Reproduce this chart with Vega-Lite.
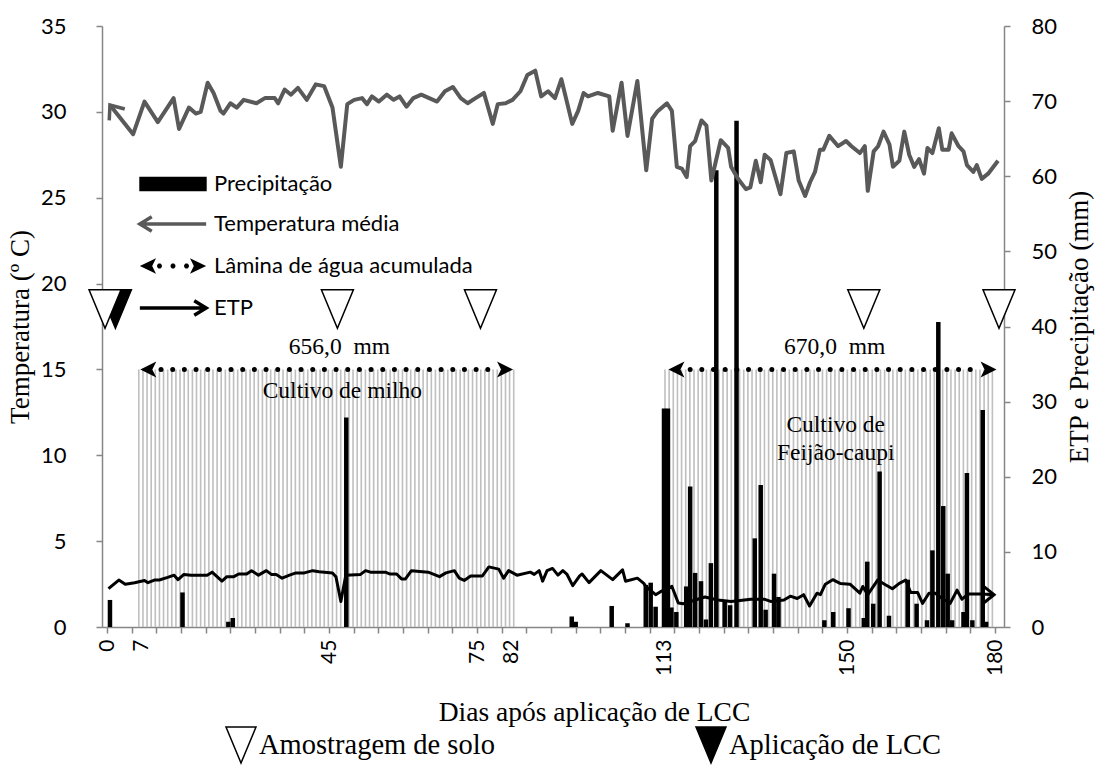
{
"$schema": "https://vega.github.io/schema/vega-lite/v6.json",
"width": 902, "height": 601,
"autosize": {"type": "none"},
"padding": {"left": 102, "top": 26, "right": 101, "bottom": 140},
"background": "white",
"config": {"view": {"stroke": null}, "axis": {"grid": false}},
"resolve": {"scale": {"y": "independent", "shape": "independent", "fill": "independent", "stroke": "independent"}},
"encoding": {
"x": {"field": "d", "type": "quantitative", "scale": {"domain": [0, 180.8], "nice": false, "zero": false},
"axis": {"title": "Dias após aplicação de LCC",
"values": [0,5,7,10,15,20,25,30,35,40,45,50,55,60,65,70,75,80,82,85,90,95,100,105,110,113,115,120,125,130,135,140,145,150,155,160,165,170,175,180],
"labelExpr": "indexof([0,7,45,75,82,113,150,180], datum.value) >= 0 ? datum.label : ''",
"tickOpacity": {"condition": {"test": "indexof([7,82,113], datum.value) >= 0", "value": 0}, "value": 1},
"labelAngle": 270, "labelFont": "Lato", "labelFontSize": 21, "labelColor": "black", "labelPadding": 6,
"labelOverlap": false, "labelFlush": false, "format": "d",
"tickSize": 6, "tickColor": "#868686", "tickWidth": 1.5, "domainColor": "#868686", "domainWidth": 1.5,
"titleFont": "Liberation Serif", "titleFontSize": 27.5, "titleFontWeight": "normal", "titleColor": "black",
"titleX": 492, "titleY": 85, "titleBaseline": "middle"}}
},
"layer": [
{
"data": {"values": [{"d":6.45},{"d":7.29},{"d":8.12},{"d":8.96},{"d":9.79},{"d":10.63},{"d":11.46},{"d":12.30},{"d":13.13},{"d":13.97},{"d":14.80},{"d":15.64},{"d":16.47},{"d":17.31},{"d":18.14},{"d":18.98},{"d":19.81},{"d":20.65},{"d":21.48},{"d":22.32},{"d":23.15},{"d":23.99},{"d":24.82},{"d":25.66},{"d":26.49},{"d":27.33},{"d":28.16},{"d":29.00},{"d":29.83},{"d":30.67},{"d":31.50},{"d":32.34},{"d":33.17},{"d":34.01},{"d":34.84},{"d":35.68},{"d":36.51},{"d":37.35},{"d":38.18},{"d":39.02},{"d":39.85},{"d":40.69},{"d":41.52},{"d":42.36},{"d":43.19},{"d":44.03},{"d":44.86},{"d":45.70},{"d":46.53},{"d":47.37},{"d":48.20},{"d":49.04},{"d":49.87},{"d":50.71},{"d":51.54},{"d":52.38},{"d":53.21},{"d":54.05},{"d":54.88},{"d":55.72},{"d":56.55},{"d":57.39},{"d":58.22},{"d":59.06},{"d":59.89},{"d":60.73},{"d":61.56},{"d":62.40},{"d":63.23},{"d":64.07},{"d":64.90},{"d":65.74},{"d":66.57},{"d":67.41},{"d":68.24},{"d":69.08},{"d":69.91},{"d":70.75},{"d":71.58},{"d":72.42},{"d":73.25},{"d":74.09},{"d":74.92},{"d":75.76},{"d":76.59},{"d":77.43},{"d":78.26},{"d":79.10},{"d":79.93},{"d":80.77},{"d":81.60},{"d":82.44},
{"d":113.10},{"d":113.94},{"d":114.78},{"d":115.62},{"d":116.46},{"d":117.30},{"d":118.14},{"d":118.98},{"d":119.82},{"d":120.66},{"d":121.50},{"d":122.34},{"d":123.18},{"d":124.02},{"d":124.86},{"d":125.70},{"d":126.54},{"d":127.38},{"d":128.22},{"d":129.06},{"d":129.90},{"d":130.74},{"d":131.58},{"d":132.42},{"d":133.26},{"d":134.10},{"d":134.94},{"d":135.78},{"d":136.62},{"d":137.46},{"d":138.30},{"d":139.14},{"d":139.98},{"d":140.82},{"d":141.66},{"d":142.50},{"d":143.34},{"d":144.18},{"d":145.02},{"d":145.86},{"d":146.70},{"d":147.54},{"d":148.38},{"d":149.22},{"d":150.06},{"d":150.90},{"d":151.74},{"d":152.58},{"d":153.42},{"d":154.26},{"d":155.10},{"d":155.94},{"d":156.78},{"d":157.62},{"d":158.46},{"d":159.30},{"d":160.14},{"d":160.98},{"d":161.82},{"d":162.66},{"d":163.50},{"d":164.34},{"d":165.18},{"d":166.02},{"d":166.86},{"d":167.70},{"d":168.54},{"d":169.38},{"d":170.22},{"d":171.06},{"d":171.90},{"d":172.74},{"d":173.58},{"d":174.42},{"d":175.26},{"d":176.10},{"d":176.94},{"d":177.78},{"d":178.62},{"d":179.46}]},
"mark": {"type": "rule", "color": "#bfbfbf", "strokeWidth": 1.6},
"encoding": {
"y": {"datum": 0, "type": "quantitative", "scale": {"domain": [0, 35], "nice": false}, "axis": null},
"y2": {"datum": 15}
}
},
{
"data": {"values": [{"d":0.6,"p":3.6},{"d":15.3,"p":4.6},{"d":24.6,"p":0.7},{"d":25.5,"p":1.2},{"d":48.5,"p":27.9},{"d":94.2,"p":1.4},{"d":95.0,"p":0.7},{"d":102.3,"p":2.8},{"d":105.5,"p":0.5},{"d":109.2,"p":5.6},{"d":110.2,"p":5.9},{"d":111.2,"p":2.7},{"d":112.9,"p":29.1},{"d":113.7,"p":29.1},{"d":114.4,"p":2.6},{"d":115.4,"p":2.0},{"d":117.4,"p":5.4},{"d":118.2,"p":18.7},{"d":119.2,"p":7.2},{"d":120.4,"p":6.1},{"d":121.4,"p":1.0},{"d":122.4,"p":8.5},{"d":123.5,"p":60.8},{"d":125.2,"p":3.4},{"d":126.3,"p":2.9},{"d":127.6,"p":67.4},{"d":131.3,"p":11.8},{"d":132.5,"p":18.9},{"d":133.5,"p":2.3},{"d":135.2,"p":7.1},{"d":136.1,"p":4.0},{"d":145.4,"p":0.9},{"d":147.2,"p":2.0},{"d":150.3,"p":2.5},{"d":153.4,"p":1.2},{"d":154.1,"p":8.7},{"d":155.3,"p":3.1},{"d":156.6,"p":20.7},{"d":158.5,"p":1.5},{"d":162.3,"p":6.3},{"d":164.1,"p":3.1},{"d":166.2,"p":0.9},{"d":167.3,"p":10.2},{"d":168.5,"p":40.6},{"d":169.5,"p":16.1},{"d":170.4,"p":7.1},{"d":171.3,"p":0.9},{"d":173.6,"p":2.0},{"d":174.3,"p":20.5},{"d":175.4,"p":0.9},{"d":177.5,"p":28.9},{"d":178.2,"p":0.7}]},
"mark": {"type": "bar", "color": "black", "size": 4.5},
"encoding": {
"y": {"field": "p", "type": "quantitative", "scale": {"domain": [0, 80], "nice": false},
"axis": {"orient": "right", "title": "ETP e Precipitação (mm)", "values": [0,10,20,30,40,50,60,70,80],
"titleAngle": 270, "titleBaseline": "top", "titleFont": "Liberation Serif", "titleFontSize": 27, "titleFontWeight": "normal", "titleColor": "black", "titlePadding": 10,
"labelFont": "Lato", "labelFontSize": 22, "labelColor": "black", "labelPadding": 21,
"tickSize": 6, "tickColor": "#868686", "tickWidth": 1.5, "domainColor": "#868686", "domainWidth": 1.5}}
}
},
{
"data": {"values": [{"d":0.3,"p":5.1},{"d":2.4,"p":6.25},{"d":3.7,"p":5.7},{"d":5.6,"p":5.9},{"d":7.6,"p":6.2},{"d":8.3,"p":5.9},{"d":9.6,"p":6.25},{"d":10.6,"p":6.25},{"d":12.3,"p":6.6},{"d":13.6,"p":6.9},{"d":14.4,"p":6.3},{"d":15.6,"p":7.0},{"d":17.0,"p":6.9},{"d":20.3,"p":6.9},{"d":21.3,"p":7.3},{"d":23.3,"p":6.1},{"d":24.3,"p":6.7},{"d":25.7,"p":6.7},{"d":26.7,"p":7.05},{"d":28.3,"p":7.05},{"d":29.3,"p":7.5},{"d":30.7,"p":6.9},{"d":32.3,"p":7.5},{"d":33.3,"p":7.0},{"d":34.3,"p":7.0},{"d":35.5,"p":6.5},{"d":37.0,"p":6.9},{"d":38.3,"p":7.2},{"d":40.0,"p":7.2},{"d":41.7,"p":7.5},{"d":43.0,"p":7.35},{"d":45.7,"p":7.2},{"d":46.4,"p":6.7},{"d":47.4,"p":3.4},{"d":48.4,"p":6.9},{"d":51.4,"p":7.0},{"d":52.4,"p":7.5},{"d":53.4,"p":7.3},{"d":56.4,"p":7.3},{"d":57.4,"p":7.05},{"d":58.7,"p":7.05},{"d":59.7,"p":6.4},{"d":60.5,"p":6.4},{"d":61.7,"p":7.5},{"d":65.1,"p":7.3},{"d":67.4,"p":6.7},{"d":68.7,"p":7.2},{"d":70.4,"p":7.5},{"d":71.4,"p":6.5},{"d":72.4,"p":6.2},{"d":73.7,"p":6.8},{"d":76.1,"p":6.8},{"d":77.4,"p":8.0},{"d":79.4,"p":7.7},{"d":80.4,"p":6.5},{"d":81.4,"p":7.5},{"d":83.1,"p":6.9},{"d":85.8,"p":7.3},{"d":86.6,"p":7.0},{"d":87.6,"p":7.5},{"d":88.3,"p":6.1},{"d":89.2,"p":7.5},{"d":90.3,"p":7.8},{"d":91.4,"p":6.9},{"d":92.4,"p":7.5},{"d":93.2,"p":7.05},{"d":94.4,"p":5.5},{"d":95.8,"p":6.8},{"d":96.3,"p":7.05},{"d":97.7,"p":5.9},{"d":100.1,"p":7.5},{"d":102.5,"p":6.3},{"d":104.5,"p":7.6},{"d":105.1,"p":6.1},{"d":107.5,"p":6.5},{"d":108.8,"p":5.8},{"d":109.2,"p":5.4},{"d":111.2,"p":4.3},{"d":112.2,"p":4.7},{"d":114.5,"p":5.4},{"d":115.8,"p":3.2},{"d":116.8,"p":3.1},{"d":121.2,"p":4.0},{"d":123.8,"p":3.6},{"d":126.5,"p":3.4},{"d":129.2,"p":3.6},{"d":130.5,"p":3.7},{"d":133.2,"p":3.7},{"d":134.5,"p":3.4},{"d":137.2,"p":3.6},{"d":138.5,"p":4.1},{"d":139.9,"p":3.8},{"d":141.2,"p":4.3},{"d":142.4,"p":2.8},{"d":143.9,"p":4.5},{"d":144.6,"p":4.3},{"d":145.6,"p":5.7},{"d":147.1,"p":6.3},{"d":148.6,"p":5.8},{"d":150.6,"p":5.7},{"d":152.6,"p":4.5},{"d":153.2,"p":5.4},{"d":154.2,"p":4.3},{"d":156.2,"p":6.25},{"d":157.6,"p":5.7},{"d":159.2,"p":5.1},{"d":160.6,"p":5.8},{"d":161.9,"p":6.25},{"d":162.9,"p":4.6},{"d":164.3,"p":4.6},{"d":165.3,"p":3.15},{"d":166.6,"p":4.5},{"d":167.9,"p":4.5},{"d":169.3,"p":3.8},{"d":170.9,"p":3.15},{"d":172.3,"p":4.9},{"d":173.3,"p":3.7},{"d":174.6,"p":4.4},{"d":177.3,"p":4.4},{"d":179.8,"p":4.3}]},
"mark": {"type": "line", "color": "black", "strokeWidth": 3, "strokeJoin": "round"},
"encoding": {
"y": {"field": "p", "type": "quantitative", "scale": {"domain": [0, 80], "nice": false}, "axis": null}
}
},
{
"data": {"values": [{"d": 179.8, "p": 4.3}]},
"mark": {"type": "point", "shape": "M-1,-0.8L0,0L-1,0.8", "size": 576, "filled": false, "stroke": "black", "strokeWidth": 3, "opacity": 1},
"encoding": {
"y": {"field": "p", "type": "quantitative", "scale": {"domain": [0, 80], "nice": false}, "axis": null}
}
},
{
"data": {"values": [{"d": 10.95, "e": 78.4}, {"d": 118.2, "e": 176.3}]},
"mark": {"type": "rule", "color": "black", "strokeWidth": 5, "strokeCap": "round", "strokeDash": [0, 11.67]},
"encoding": {
"x2": {"field": "e"},
"y": {"datum": 15, "type": "quantitative", "scale": {"domain": [0, 35], "nice": false}, "axis": null}
}
},
{
"data": {"values": [{"d": 6.75, "dir": "esq"}, {"d": 82.3, "dir": "dir"}, {"d": 113.8, "dir": "esq"}, {"d": 180.3, "dir": "dir"}]},
"mark": {"type": "point", "filled": true, "color": "black", "size": 64, "opacity": 1},
"encoding": {
"y": {"datum": 15, "type": "quantitative", "scale": {"domain": [0, 35], "nice": false}, "axis": null},
"shape": {"field": "dir", "type": "nominal", "scale": {"domain": ["esq", "dir"], "range": ["M0,0L4,-2L3,0L4,2Z", "M0,0L-4,-2L-3,0L-4,2Z"]}, "legend": null}
}
},
{
"data": {"values": [{"d": 47.1, "v": 16.31, "label": "656,0\u00a0 mm"}, {"d": 47.7, "v": 13.74, "label": "Cultivo de milho"}, {"d": 147.5, "v": 16.31, "label": "670,0\u00a0 mm"}, {"d": 147.7, "v": 11.76, "label": "Cultivo de\nFeijão-caupi"}]},
"mark": {"type": "text", "font": "Liberation Serif", "fontSize": 23.5, "color": "black", "align": "center", "baseline": "middle", "lineBreak": "\n", "lineHeight": 28},
"encoding": {
"y": {"field": "v", "type": "quantitative", "scale": {"domain": [0, 35], "nice": false}, "axis": null},
"text": {"field": "label"}
}
},
{
"data": {"values": [{"d":0.6,"t":30.4},{"d":5.3,"t":28.7},{"d":7.6,"t":30.6},{"d":10.3,"t":29.4},{"d":13.5,"t":30.8},{"d":14.6,"t":29.0},{"d":16.6,"t":30.25},{"d":18.0,"t":29.9},{"d":19.0,"t":30.0},{"d":20.4,"t":31.7},{"d":21.6,"t":31.1},{"d":23.0,"t":30.06},{"d":23.6,"t":29.9},{"d":25.0,"t":30.5},{"d":26.3,"t":30.25},{"d":27.7,"t":30.7},{"d":30.3,"t":30.5},{"d":32.0,"t":30.8},{"d":34.0,"t":30.8},{"d":34.7,"t":30.5},{"d":36.0,"t":31.3},{"d":37.3,"t":31.0},{"d":38.7,"t":31.4},{"d":40.5,"t":30.7},{"d":42.3,"t":31.6},{"d":44.0,"t":31.5},{"d":45.7,"t":30.25},{"d":47.4,"t":26.8},{"d":48.7,"t":30.45},{"d":50.1,"t":30.7},{"d":51.7,"t":30.8},{"d":52.7,"t":30.45},{"d":53.7,"t":30.9},{"d":55.1,"t":30.6},{"d":56.7,"t":31.0},{"d":58.1,"t":30.7},{"d":59.3,"t":30.9},{"d":60.7,"t":30.3},{"d":62.1,"t":30.8},{"d":63.7,"t":31.0},{"d":65.3,"t":30.8},{"d":66.9,"t":30.6},{"d":68.5,"t":31.2},{"d":70.1,"t":31.45},{"d":71.7,"t":30.8},{"d":73.1,"t":30.5},{"d":74.7,"t":30.8},{"d":76.4,"t":31.1},{"d":78.2,"t":29.3},{"d":79.2,"t":30.45},{"d":80.8,"t":30.5},{"d":82.2,"t":30.7},{"d":83.8,"t":31.2},{"d":85.2,"t":32.15},{"d":86.8,"t":32.4},{"d":88.0,"t":30.9},{"d":89.4,"t":31.2},{"d":90.8,"t":30.8},{"d":92.1,"t":31.9},{"d":94.3,"t":29.3},{"d":95.5,"t":30.06},{"d":96.6,"t":31.1},{"d":97.5,"t":30.9},{"d":99.5,"t":31.1},{"d":101.8,"t":30.9},{"d":102.5,"t":28.9},{"d":104.3,"t":31.7},{"d":105.5,"t":28.6},{"d":107.5,"t":31.8},{"d":109.3,"t":26.6},{"d":110.5,"t":29.6},{"d":111.5,"t":30.0},{"d":113.5,"t":30.5},{"d":114.5,"t":30.06},{"d":115.5,"t":26.8},{"d":116.5,"t":26.7},{"d":117.5,"t":26.2},{"d":118.2,"t":28.0},{"d":119.2,"t":28.3},{"d":120.5,"t":29.5},{"d":121.5,"t":29.2},{"d":122.5,"t":26.0},{"d":124.4,"t":28.35},{"d":125.9,"t":27.9},{"d":126.5,"t":26.8},{"d":127.9,"t":26.1},{"d":129.5,"t":25.5},{"d":130.4,"t":25.6},{"d":131.5,"t":27.15},{"d":132.5,"t":25.9},{"d":133.3,"t":27.5},{"d":134.5,"t":27.2},{"d":135.9,"t":25.8},{"d":136.5,"t":25.2},{"d":137.7,"t":27.6},{"d":139.2,"t":27.7},{"d":140.2,"t":26.0},{"d":141.5,"t":25.1},{"d":142.5,"t":25.9},{"d":143.5,"t":26.5},{"d":144.5,"t":27.8},{"d":145.2,"t":27.8},{"d":146.4,"t":28.6},{"d":148.2,"t":28.0},{"d":149.8,"t":28.3},{"d":150.9,"t":28.0},{"d":152.6,"t":27.6},{"d":153.6,"t":28.0},{"d":154.2,"t":25.4},{"d":155.4,"t":27.7},{"d":156.3,"t":28.0},{"d":157.4,"t":28.85},{"d":158.6,"t":28.1},{"d":159.3,"t":26.8},{"d":160.6,"t":27.15},{"d":161.6,"t":28.85},{"d":162.6,"t":27.5},{"d":163.6,"t":26.8},{"d":164.6,"t":27.25},{"d":165.6,"t":26.4},{"d":166.3,"t":27.9},{"d":167.3,"t":27.6},{"d":168.6,"t":29.05},{"d":169.3,"t":27.8},{"d":170.6,"t":27.8},{"d":171.2,"t":28.75},{"d":172.6,"t":28.0},{"d":173.6,"t":27.7},{"d":174.3,"t":26.9},{"d":175.6,"t":26.5},{"d":176.3,"t":26.9},{"d":177.3,"t":26.1},{"d":178.6,"t":26.4},{"d":180.6,"t":27.15}]},
"mark": {"type": "line", "color": "#595959", "strokeWidth": 4, "strokeJoin": "round"},
"encoding": {
"y": {"field": "t", "type": "quantitative", "scale": {"domain": [0, 35], "nice": false},
"axis": {"orient": "left", "title": "Temperatura (º C)", "values": [0,5,10,15,20,25,30,35],
"titleFont": "Liberation Serif", "titleFontSize": 27, "titleFontWeight": "normal", "titleColor": "black", "titlePadding": 6,
"labelFont": "Lato", "labelFontSize": 22, "labelColor": "black", "labelPadding": 30,
"tickSize": 6, "tickColor": "#868686", "tickWidth": 1.5, "domainColor": "#868686", "domainWidth": 1.5}}
}
},
{
"data": {"values": [{"d": 0.6, "t": 30.4}]},
"mark": {"type": "point", "shape": "M1,-0.8L0,0L1,0.8", "angle": 54, "size": 576, "filled": false, "stroke": "#595959", "strokeWidth": 3.5, "opacity": 1},
"encoding": {
"y": {"field": "t", "type": "quantitative", "scale": {"domain": [0, 35], "nice": false}, "axis": null}
}
},
{
"data": {"values": [{"d": 1.7, "v": 18.52, "tipo": "Aplicação de LCC"}, {"d": -0.4, "v": 18.52, "tipo": "Amostragem de solo"}, {"d": 46.7, "v": 18.52, "tipo": "Amostragem de solo"}, {"d": 75.7, "v": 18.52, "tipo": "Amostragem de solo"}, {"d": 153.4, "v": 18.52, "tipo": "Amostragem de solo"}, {"d": 180.8, "v": 18.52, "tipo": "Amostragem de solo"}]},
"mark": {"type": "point", "filled": true, "size": 1024, "strokeWidth": 1.5, "opacity": 1},
"encoding": {
"y": {"field": "v", "type": "quantitative", "scale": {"domain": [0, 35], "nice": false}, "axis": null},
"shape": {"field": "tipo", "type": "nominal", "scale": {"domain": ["Amostragem de solo", "Aplicação de LCC"], "range": ["M-1,-1.2L1,-1.2L0,1.2Z", "M-1,-1.2L1,-1.2L0,1.2Z"]},
"legend": {"orient": "none", "legendX": 123, "legendY": 703, "direction": "horizontal", "title": null, "symbolSize": 900, "symbolStrokeWidth": 1.5, "symbolOpacity": 1, "labelFont": "Liberation Serif", "labelFontSize": 28.5, "labelColor": "black", "labelLimit": 500, "columnPadding": 198, "labelOffset": 2}},
"fill": {"field": "tipo", "type": "nominal", "scale": {"domain": ["Amostragem de solo", "Aplicação de LCC"], "range": ["white", "black"]},
"legend": {"orient": "none", "legendX": 123, "legendY": 703, "direction": "horizontal", "title": null, "symbolSize": 900, "symbolStrokeWidth": 1.5, "symbolOpacity": 1, "labelFont": "Liberation Serif", "labelFontSize": 28.5, "labelColor": "black", "labelLimit": 500, "columnPadding": 198, "labelOffset": 2}},
"stroke": {"field": "tipo", "type": "nominal", "scale": {"domain": ["Amostragem de solo", "Aplicação de LCC"], "range": ["black", "black"]},
"legend": {"orient": "none", "legendX": 123, "legendY": 703, "direction": "horizontal", "title": null, "symbolSize": 900, "symbolStrokeWidth": 1.5, "symbolOpacity": 1, "labelFont": "Liberation Serif", "labelFontSize": 28.5, "labelColor": "black", "labelLimit": 500, "columnPadding": 198, "labelOffset": 2}}
}
},
{
"data": {"values": [{"serie": "Precipitação"}, {"serie": "Temperatura média"}, {"serie": "Lâmina de água acumulada"}, {"serie": "ETP"}]},
"mark": {"type": "point", "opacity": 0},
"encoding": {
"shape": {"field": "serie", "type": "nominal", "scale": {"domain": ["Precipitação", "Temperatura média", "Lâmina de água acumulada", "ETP"], "range": ["M-3.76,-0.65L3.76,-0.65L3.76,0.65L-3.76,0.65Z", "M-3.9,0L3.9,0M-2.5,-0.85L-3.9,0L-2.5,0.85", "M-3.9,0L-2,-0.9L-2.45,0L-2,0.9ZM3.9,0L2,-0.9L2.45,0L2,0.9ZM-1.87,-0.12L-1.87,0.12L-1.71,0.28L-1.47,0.28L-1.31,0.12L-1.31,-0.12L-1.47,-0.28L-1.71,-0.28ZM-0.28,-0.12L-0.28,0.12L-0.12,0.28L0.12,0.28L0.28,0.12L0.28,-0.12L0.12,-0.28L-0.12,-0.28ZM1.31,-0.12L1.31,0.12L1.47,0.28L1.71,0.28L1.87,0.12L1.87,-0.12L1.71,-0.28L1.47,-0.28Z", "M-3.9,0L3.9,0M2.5,-0.85L3.9,0L2.5,0.85"]},
"legend": {"orient": "none", "legendX": 60, "legendY": 147, "title": null, "symbolSize": 289, "symbolStrokeWidth": 3.5, "symbolOpacity": 1, "labelFont": "Lato", "labelFontSize": 22, "labelColor": "black", "labelLimit": 500, "labelOffset": 30, "rowPadding": 12}},
"fill": {"field": "serie", "type": "nominal", "scale": {"domain": ["Precipitação", "Temperatura média", "Lâmina de água acumulada", "ETP"], "range": ["black", "transparent", "black", "transparent"]},
"legend": {"orient": "none", "legendX": 60, "legendY": 147, "title": null, "symbolSize": 289, "symbolStrokeWidth": 3.5, "symbolOpacity": 1, "labelFont": "Lato", "labelFontSize": 22, "labelColor": "black", "labelLimit": 500, "labelOffset": 30, "rowPadding": 12}},
"stroke": {"field": "serie", "type": "nominal", "scale": {"domain": ["Precipitação", "Temperatura média", "Lâmina de água acumulada", "ETP"], "range": ["black", "#595959", "transparent", "black"]},
"legend": {"orient": "none", "legendX": 60, "legendY": 147, "title": null, "symbolSize": 289, "symbolStrokeWidth": 3.5, "symbolOpacity": 1, "labelFont": "Lato", "labelFontSize": 22, "labelColor": "black", "labelLimit": 500, "labelOffset": 30, "rowPadding": 12}}
}
}
]
}
